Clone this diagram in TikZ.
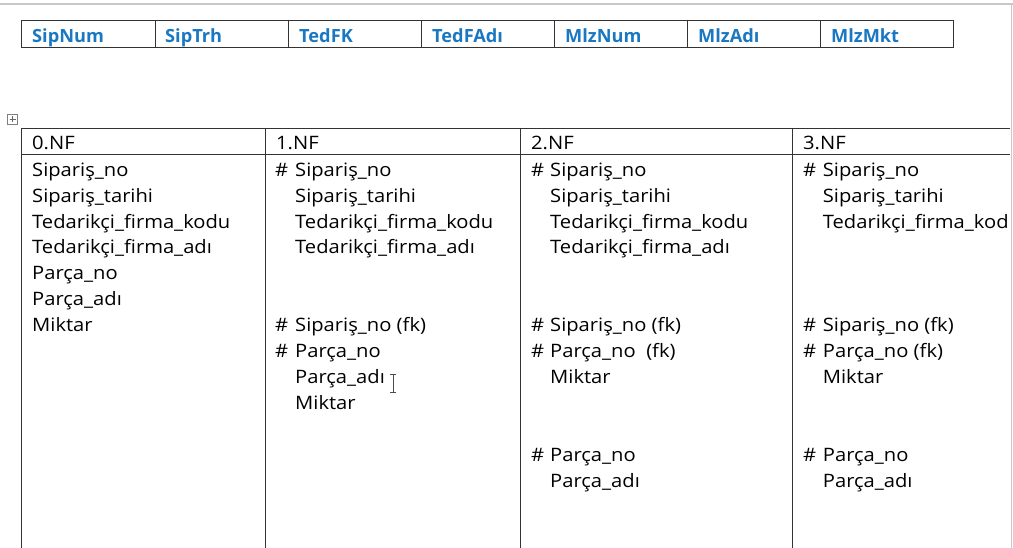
\documentclass[tikz,border=0pt]{standalone}
\usepackage{fontspec}
\setmainfont{Open Sans}[Ligatures=NoCommon]
\newfontfamily\bodyfont{Open Sans}[Ligatures=NoCommon,FakeStretch=1.09]
\definecolor{hblue}{HTML}{1A78C2}
\definecolor{uigray}{HTML}{C8C8C8}
\begin{document}
\begin{tikzpicture}[x=1pt,y=-1pt,
  txt/.style={anchor=base west,inner sep=0pt,font=\bodyfont\fontsize{18.5}{20}\selectfont},
  htxt/.style={anchor=base west,inner sep=0pt,font=\fontsize{18.2}{20}\selectfont\bfseries,text=hblue},
  rule/.style={draw=black!80,line width=1pt}]
\useasboundingbox (0,0) rectangle (1013,548);
\fill[white] (0,0) rectangle (1013,548);
% page / window edges
\draw[uigray,line width=1.2pt] (0,4) -- (1013,4);
\draw[uigray,line width=1pt] (1011,4) -- (1011,548);
% top table
\draw[rule] (21,21) rectangle (953.5,47.5);
\foreach \xx in {155.3,288.3,421.7,554.3,687.7,820.7}
  \draw[rule] (\xx,21) -- (\xx,47.5);
\node[htxt] (h1) at (32,43) {SipNum};
\node[htxt] (h2) at (165,43) {SipTrh};
\node[htxt] (h3) at (299,43) {TedFK};
\node[htxt] (h4) at (432,43) {TedFAdı};
\node[htxt] (h5) at (565,43) {MlzNum};
\node[htxt] (h6) at (698,43) {MlzAdı};
\node[htxt] (h7) at (831,43) {MlzMkt};
% move handle
\draw[black!50,line width=0.6pt,fill=white] (7.5,114.5) rectangle (17.5,124.5);
\draw[black!60,line width=0.6pt] (12.5,116.5) -- (12.5,122.5) (9.5,119.5) -- (15.5,119.5);
% lower table
\draw[rule] (1010,128.5) -- (21,128.5) -- (21,548);
\draw[rule] (21,155) -- (1010,155);
\foreach \xx in {265.7,520,792.7}
  \draw[rule] (\xx,128.5) -- (\xx,548);
\node[txt] (c0) at (32,149.5) {0.NF};
\node[txt] (c1) at (276,149.5) {1.NF};
\node[txt] (c2) at (531,149.5) {2.NF};
\node[txt] (c3) at (803,149.5) {3.NF};
% column 0
\node[txt] (a1) at (32,177) {Sipariş\_no};
\node[txt] (a2) at (32,202.5) {Sipariş\_tarihi};
\node[txt] (a3) at (32,228.3) {Tedarikçi\_firma\_kodu};
\node[txt] (a4) at (32,254) {Tedarikçi\_firma\_adı};
\node[txt] (a5) at (32,280) {Parça\_no};
\node[txt] (a6) at (32,305.7) {Parça\_adı};
\node[txt] (a7) at (32,331.7) {Miktar};
% column 1
\node[txt] (b1) at (275,177) {\#};
\node[txt] (b1t) at (295,177) {Sipariş\_no};
\node[txt] (b2) at (295,202.5) {Sipariş\_tarihi};
\node[txt] (b3) at (295,228.3) {Tedarikçi\_firma\_kodu};
\node[txt] (b4) at (295,254) {Tedarikçi\_firma\_adı};
\node[txt] (b5) at (275,331.7) {\#};
\node[txt] (b5t) at (295,331.7) {Sipariş\_no (fk)};
\node[txt] (b6) at (275,357.5) {\#};
\node[txt] (b6t) at (295,357.5) {Parça\_no};
\node[txt] (b7) at (295,383.3) {Parça\_adı};
\node[txt] (b8) at (295,409) {Miktar};
% I-beam cursor
\draw[black!70,line width=0.8pt] (390,374) -- (396,374) (393,374) -- (393,392) (390,392) -- (396,392);
% column 2
\node[txt] (d1) at (531,177) {\#};
\node[txt] (d1t) at (550,177) {Sipariş\_no};
\node[txt] (d2) at (550,202.5) {Sipariş\_tarihi};
\node[txt] (d3) at (550,228.3) {Tedarikçi\_firma\_kodu};
\node[txt] (d4) at (550,254) {Tedarikçi\_firma\_adı};
\node[txt] (d5) at (531,331.7) {\#};
\node[txt] (d5t) at (550,331.7) {Sipariş\_no (fk)};
\node[txt] (d6) at (531,357.5) {\#};
\node[txt] (d6t) at (550,357.5) {Parça\_no\ \ (fk)};
\node[txt] (d7) at (550,383.3) {Miktar};
\node[txt] (d8) at (531,461) {\#};
\node[txt] (d8t) at (550,461) {Parça\_no};
\node[txt] (d9) at (550,487) {Parça\_adı};
% column 3 (as shown, cut at the window edge)
\node[txt] (e1) at (803,177) {\#};
\node[txt] (e1t) at (822.7,177) {Sipariş\_no};
\node[txt] (e2) at (822.7,202.5) {Sipariş\_tarihi};
\node[txt] (e3) at (822.7,228.3) {Tedarikçi\_firma\_kod};
\node[txt] (e5) at (803,331.7) {\#};
\node[txt] (e5t) at (822.7,331.7) {Sipariş\_no (fk)};
\node[txt] (e6) at (803,357.5) {\#};
\node[txt] (e6t) at (822.7,357.5) {Parça\_no (fk)};
\node[txt] (e7) at (822.7,383.3) {Miktar};
\node[txt] (e8) at (803,461) {\#};
\node[txt] (e8t) at (822.7,461) {Parça\_no};
\node[txt] (e9) at (822.7,487) {Parça\_adı};
\end{tikzpicture}
\end{document}
